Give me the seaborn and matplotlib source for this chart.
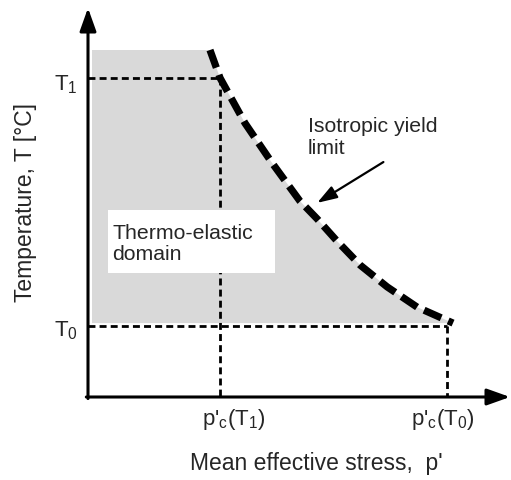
import matplotlib
matplotlib.use("Agg")
import matplotlib.pyplot as plt
import seaborn as sns
import numpy as np
import pandas as pd
from matplotlib.patches import Rectangle

# ---- data (schematic units: p' 0..10, T 0..10) ----
yield_p = [2.89, 3.13, 3.72, 4.36, 5.02, 5.43, 5.90, 6.45, 7.09, 7.80, 8.65]
yield_T = [8.92, 8.20, 7.04, 6.02, 5.04, 4.58, 4.01, 3.39, 2.83, 2.31, 1.90]
T1, T0 = 8.20, 1.825
pc_T1, pc_T0 = 3.13, 8.50
tick_labels_x = [r"p'$_\mathregular{c}$(T$_\mathregular{1}$)", r"p'$_\mathregular{c}$(T$_\mathregular{0}$)"]
tick_labels_y = [r"T$_\mathregular{1}$", r"T$_\mathregular{0}$"]
xlabel = "Mean effective stress,  p'"
ylabel = "Temperature, T [°C]"
domain_text = "Thermo-elastic\ndomain"
yield_text = "Isotropic yield\nlimit"

sns.set_theme(style="white")
plt.rcParams["font.family"] = ["Liberation Sans", "DejaVu Sans"]
plt.rcParams["mathtext.fontset"] = "custom"
plt.rcParams["mathtext.rm"] = "Liberation Sans"
plt.rcParams["mathtext.it"] = "Liberation Sans"
plt.rcParams["lines.scale_dashes"] = False

fig = plt.figure(figsize=(5.11, 4.80), dpi=100)
ax = fig.add_axes([0, 0, 1, 1])
ax.set_xlim(-88 / 42.2, 423 / 42.2)
ax.set_ylim(-83 / 38.9, 397 / 38.9)
ax.axis("off")

# gray elastic domain
left = 4 / 42.2
fx = [left] + yield_p + [left]
fy = [yield_T[0]] + yield_T + [yield_T[-1]]
ax.fill(fx, fy, color="#d9d9d9", lw=0, zorder=1)

# dotted guide lines
gkw = dict(color="black", lw=2.0, dashes=[5, 3], zorder=2)
ax.plot([0, pc_T1], [T1, T1], **gkw)
ax.plot([pc_T1, pc_T1], [T1, 0], **gkw)
ax.plot([0, pc_T0], [T0, T0], **gkw)
ax.plot([pc_T0, pc_T0], [T0, 0], **gkw)

# text box
ax.add_patch(Rectangle((0.474, 3.19), 4.43 - 0.474, 4.81 - 3.19,
                       facecolor="white", edgecolor="none", zorder=3))
ax.text(0.569, 3.93, domain_text, ha="left", va="center", fontsize=15.3,
        linespacing=1.15, zorder=4)

# yield curve
df = pd.DataFrame({"p": yield_p, "T": yield_T})
sns.lineplot(data=df, x="p", y="T", sort=False, estimator=None, ax=ax,
             color="black", lw=5.2, zorder=5)
ln = ax.lines[-1]
ln.set_dashes([13.5, 5.5])
ln.set_dash_capstyle("butt")

# axes arrows
akw = dict(arrowstyle="-|>,head_length=1.4,head_width=0.5", mutation_scale=10,
           lw=2.2, color="black", shrinkA=0, shrinkB=0)
ax.annotate("", xy=(10, 0), xytext=(-0.04, 0), arrowprops=akw, zorder=6)
ax.annotate("", xy=(0, 10), xytext=(0, -0.04), arrowprops=akw, zorder=6)

# yield annotation
ax.text(5.21, 6.66, yield_text, ha="left", va="center", fontsize=15.3,
        linespacing=1.2)
ax.annotate("", xy=(5.43, 4.99), xytext=(7.0, 6.04),
            arrowprops=dict(arrowstyle="-|>,head_length=1.2,head_width=0.4",
                            mutation_scale=10, lw=1.6, color="black",
                            shrinkA=0, shrinkB=0))

# tick-like labels
ax.text(-0.237, 8.02, tick_labels_y[0], ha="right", va="center", fontsize=16)
ax.text(-0.237, 1.70, tick_labels_y[1], ha="right", va="center", fontsize=16)
ax.text(3.46, -0.59, tick_labels_x[0], ha="center", va="center", fontsize=16)
ax.text(8.41, -0.59, tick_labels_x[1], ha="center", va="center", fontsize=16)

# axis labels
ax.text(5.40, -1.70, xlabel, ha="center", va="center", fontsize=16.5)
ax.text(-1.49, 4.99, ylabel, ha="center", va="center", fontsize=16.5,
        rotation=90)

fig.savefig("out.png", dpi=100)
